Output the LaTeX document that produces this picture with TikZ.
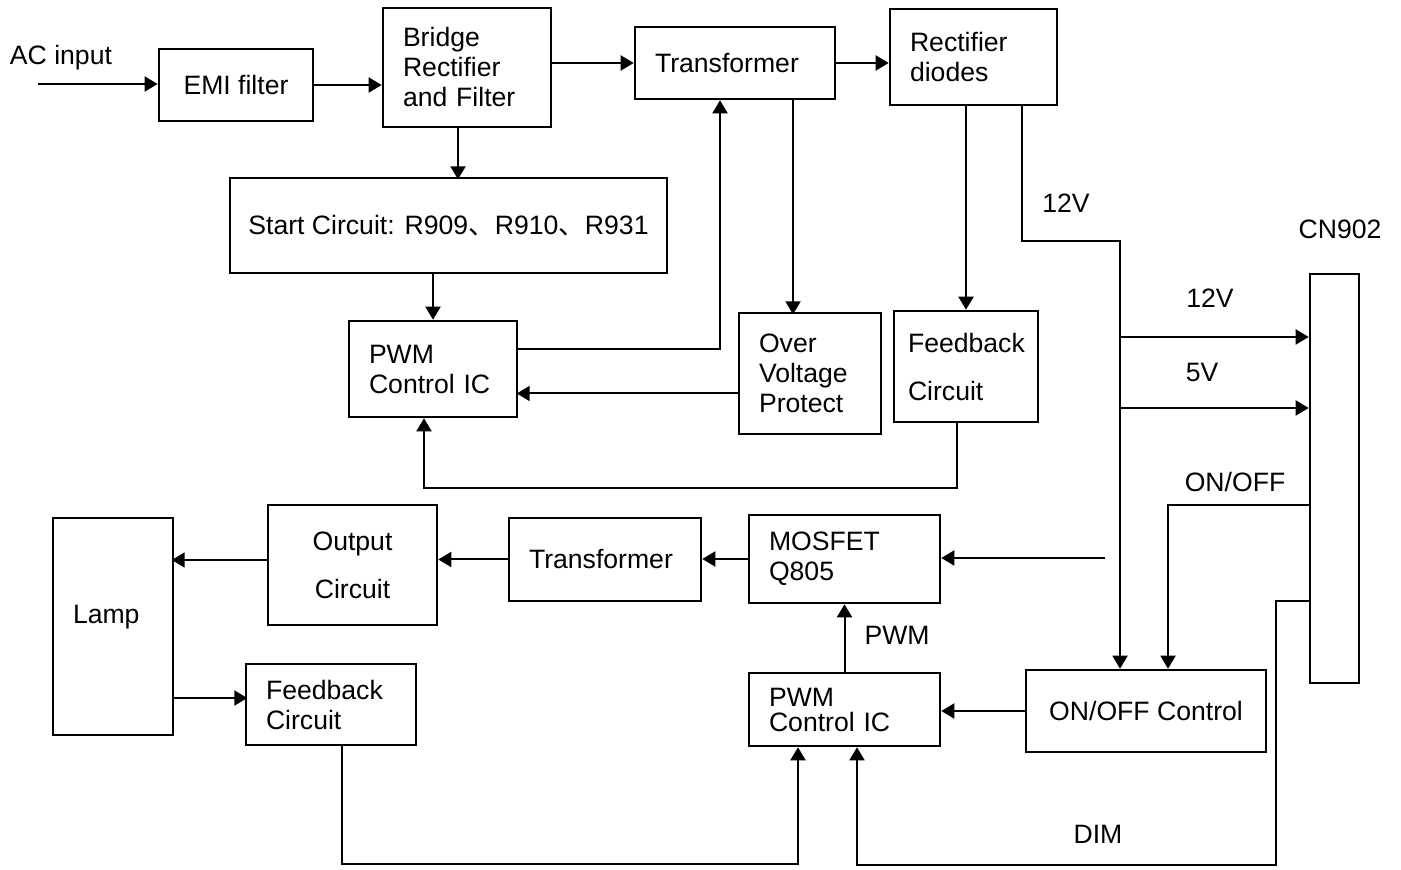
\documentclass[tikz,border=0pt]{standalone}
\usepackage{fontspec}
\setmainfont{Liberation Sans}
\newfontfamily\cjk{Noto Sans CJK SC}
\usetikzlibrary{arrows.meta}

\begin{document}
\begin{tikzpicture}[x=0.5pt, y=-0.5pt,
        font=\fontsize{13.3}{15}\selectfont,
        box/.style={draw, line width=1.3pt, inner sep=0pt, align=center},
        lbox/.style={draw, line width=1.3pt, inner xsep=10pt, inner ysep=0pt, align=left},
        arr/.style={-{Triangle[length=6.5pt,width=7.5pt]}, line width=1pt}]
        \useasboundingbox (0,0) rectangle (1401,870);

        % Primary side
        \node (aclab) at (61,58) {AC input};
        \coordinate (acin) at (38,84);
        \node[box, minimum width=77pt, minimum height=36pt] (emi) at (236,85) {EMI filter};
        \node[lbox, text width=64pt, minimum height=59.5pt] (bridge) at (467,67.5) {Bridge\\Rectifier\\and Filter};
        \node[lbox, text width=80pt, minimum height=36pt] (trafo) at (735,63) {Transformer};
        \node[lbox, text width=63.5pt, minimum height=48pt] (rect) at (973.5,57) {Rectifier\\diodes};
        \node[box, minimum width=218.5pt, minimum height=47.5pt] (start) at (448.5,225.5) {Start Circuit: R909{\cjk 、}R910{\cjk 、}R931};
        \node[lbox, text width=64pt, minimum height=48pt] (pwmA) at (433,369) {PWM\\Control IC};
        \node[lbox, text width=51pt, minimum height=60.5pt] (ovp) at (810,373.5) {Over\\Voltage\\Protect};
        \node[lbox, text width=58pt, inner xsep=7pt, minimum height=55.5pt] (fbA) at (966,366.5) {Feedback\\[9pt]Circuit};

        \draw[arr] (acin) -- (acin -| emi.west);
        \draw[arr] (emi.east) -- (emi.east -| bridge.west);
        \draw[arr] (trafo.west -| bridge.east) -- (trafo.west);
        \draw[arr] (trafo.east) -- (trafo.east -| rect.west);
        \draw[arr] ([xshift=-4.5pt]bridge.south) -- ++(0,51);
        \draw[arr] (pwmA.north |- start.south) -- (pwmA.north);
        \draw[arr] ([yshift=10pt]pwmA.east) -| ([xshift=-7.5pt]trafo.south);
        \draw[arr] ([xshift=29pt]trafo.south) -- ++(0,214);
        \draw[arr] ([yshift=-10pt]ovp.west) -- ++(-221,0);
        \draw[arr] (fbA.north |- rect.south) -- (fbA.north);
        \draw[arr] ([xshift=-4.5pt]fbA.south) -- ++(0,65) -| ([xshift=-4.5pt]pwmA.south);

        % Connector CN902
        \node (cnlab) at (1340,229) {CN902};
        \node[box, minimum width=24.5pt, minimum height=204.5pt] (cn) at (1334.5,478.5) {};
        \node (v12a) at (1066,203) {12V};
        \node (v12b) at (1210,298) {12V};
        \node (v5) at (1202,372) {5V};
        \node (onlab) at (1235,482) {ON/OFF};
        \coordinate (vbus) at (1120,240);

        % Inverter side
        \node[box, minimum width=120pt, minimum height=41pt] (onoff) at (1146,711) {ON/OFF Control};
        \node[lbox, text width=75.5pt, minimum height=36.5pt] (pwmB) at (844.5,709.5) {PWM\\[-2.5pt]Control IC};
        \node[lbox, text width=75.5pt, minimum height=44pt] (mos) at (844.5,559) {MOSFET\\Q805};
        \node[lbox, text width=76pt, minimum height=41.5pt] (trafoB) at (605,559.5) {Transformer};
        \node[box, minimum width=84.5pt, minimum height=60pt] (out) at (352.5,565) {Output\\[9pt]Circuit};
        \node[lbox, text width=40pt, text depth=12pt, minimum height=108.5pt] (lamp) at (113,626.5) {Lamp};
        \node[lbox, text width=65pt, minimum height=40.5pt] (fbB) at (331,704.5) {Feedback\\Circuit};
        \node (pwmlab) at (897,635) {PWM};
        \node (dimlab) at (1098,834) {DIM};
        \coordinate (sig) at (1105,558);

        \draw[arr] ([xshift=24.25pt]rect.south) -- ++(0,135) -| ([xshift=-13pt]onoff.north);
        \draw[arr] (vbus |- 0,337) -- (cn.west |- 0,337);
        \draw[arr] (vbus |- 0,408) -- (cn.west |- 0,408);
        \draw[arr] (cn.west |- 0,505) -| ([xshift=11pt]onoff.north);
        \draw[arr] (cn.west |- 0,601) -- ++(-33,0) -- ++(0,264) -| ([xshift=6.25pt]pwmB.south);
        \draw[arr] (onoff.west) -- (onoff.west -| pwmB.east);
        \draw[arr] (pwmB.north) -- (mos.south);
        \draw[arr] (sig) -- (sig -| mos.east);
        \draw[arr] (mos.west) -- (mos.west -| trafoB.east);
        \draw[arr] (trafoB.west) -- (trafoB.west -| out.east);
        \draw[arr] ([yshift=2.5pt]out.west) -- ++(-95,0);
        \draw[arr] ([yshift=-35.75pt]lamp.east) -- ++(73,0);
        \draw[arr] ([xshift=5.5pt]fbB.south) -- ++(0,118) -| ([xshift=-23.25pt]pwmB.south);

    \end{tikzpicture}
\end{document}
